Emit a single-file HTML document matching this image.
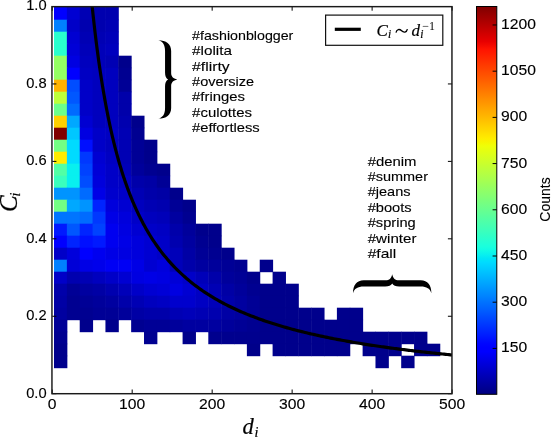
<!DOCTYPE html>
<html><head><meta charset="utf-8"><style>
html,body{margin:0;padding:0;background:#fff;width:551px;height:438px;overflow:hidden}
svg{display:block;will-change:transform;filter:blur(0.35px)}
.tl{font-family:"Liberation Sans",sans-serif;font-size:14px;fill:#000;stroke:#000;stroke-width:0.12px}
.tg{font-family:"Liberation Sans",sans-serif;font-size:13.2px;fill:#000;stroke:#000;stroke-width:0.12px}
.mi{font-family:"Liberation Serif",serif;font-style:italic;fill:#000;stroke:#000;stroke-width:0.2px}
</style></head><body>
<svg width="551" height="438" viewBox="0 0 551 438">
<defs>
<clipPath id="ax"><rect x="52.20" y="6.50" width="399.90" height="387.20"/></clipPath>
<linearGradient id="cb" x1="0" y1="0" x2="0" y2="1"><stop offset="0.00" stop-color="#800000"/><stop offset="0.01" stop-color="#8b0000"/><stop offset="0.02" stop-color="#970000"/><stop offset="0.03" stop-color="#a20000"/><stop offset="0.04" stop-color="#ae0000"/><stop offset="0.05" stop-color="#b90000"/><stop offset="0.06" stop-color="#c50000"/><stop offset="0.07" stop-color="#d10000"/><stop offset="0.08" stop-color="#dc0000"/><stop offset="0.09" stop-color="#e80000"/><stop offset="0.10" stop-color="#f30900"/><stop offset="0.11" stop-color="#ff1300"/><stop offset="0.12" stop-color="#ff1c00"/><stop offset="0.13" stop-color="#ff2600"/><stop offset="0.14" stop-color="#ff2f00"/><stop offset="0.15" stop-color="#ff3900"/><stop offset="0.16" stop-color="#ff4200"/><stop offset="0.17" stop-color="#ff4c00"/><stop offset="0.18" stop-color="#ff5500"/><stop offset="0.19" stop-color="#ff5e00"/><stop offset="0.20" stop-color="#ff6800"/><stop offset="0.21" stop-color="#ff7100"/><stop offset="0.22" stop-color="#ff7b00"/><stop offset="0.23" stop-color="#ff8400"/><stop offset="0.24" stop-color="#ff8e00"/><stop offset="0.25" stop-color="#ff9700"/><stop offset="0.26" stop-color="#ffa100"/><stop offset="0.27" stop-color="#ffaa00"/><stop offset="0.28" stop-color="#ffb300"/><stop offset="0.29" stop-color="#ffbd00"/><stop offset="0.30" stop-color="#ffc600"/><stop offset="0.31" stop-color="#ffd000"/><stop offset="0.32" stop-color="#ffd900"/><stop offset="0.33" stop-color="#ffe300"/><stop offset="0.34" stop-color="#ffec00"/><stop offset="0.35" stop-color="#f7f600"/><stop offset="0.36" stop-color="#efff08"/><stop offset="0.37" stop-color="#e6ff10"/><stop offset="0.38" stop-color="#deff19"/><stop offset="0.39" stop-color="#d6ff21"/><stop offset="0.40" stop-color="#ceff29"/><stop offset="0.41" stop-color="#c5ff31"/><stop offset="0.42" stop-color="#bdff3a"/><stop offset="0.43" stop-color="#b5ff42"/><stop offset="0.44" stop-color="#adff4a"/><stop offset="0.45" stop-color="#a5ff52"/><stop offset="0.46" stop-color="#9cff5a"/><stop offset="0.47" stop-color="#94ff63"/><stop offset="0.48" stop-color="#8cff6b"/><stop offset="0.49" stop-color="#84ff73"/><stop offset="0.50" stop-color="#7bff7b"/><stop offset="0.51" stop-color="#73ff84"/><stop offset="0.52" stop-color="#6bff8c"/><stop offset="0.53" stop-color="#63ff94"/><stop offset="0.54" stop-color="#5aff9c"/><stop offset="0.55" stop-color="#52ffa5"/><stop offset="0.56" stop-color="#4affad"/><stop offset="0.57" stop-color="#42ffb5"/><stop offset="0.58" stop-color="#3affbd"/><stop offset="0.59" stop-color="#31ffc5"/><stop offset="0.60" stop-color="#29ffce"/><stop offset="0.61" stop-color="#21ffd6"/><stop offset="0.62" stop-color="#19ffde"/><stop offset="0.63" stop-color="#10fae6"/><stop offset="0.64" stop-color="#08f0ef"/><stop offset="0.65" stop-color="#00e5f7"/><stop offset="0.66" stop-color="#00dbff"/><stop offset="0.67" stop-color="#00d1ff"/><stop offset="0.68" stop-color="#00c7ff"/><stop offset="0.69" stop-color="#00bdff"/><stop offset="0.70" stop-color="#00b3ff"/><stop offset="0.71" stop-color="#00a8ff"/><stop offset="0.72" stop-color="#009eff"/><stop offset="0.73" stop-color="#0094ff"/><stop offset="0.74" stop-color="#008aff"/><stop offset="0.75" stop-color="#0080ff"/><stop offset="0.76" stop-color="#0075ff"/><stop offset="0.77" stop-color="#006bff"/><stop offset="0.78" stop-color="#0061ff"/><stop offset="0.79" stop-color="#0057ff"/><stop offset="0.80" stop-color="#004cff"/><stop offset="0.81" stop-color="#0042ff"/><stop offset="0.82" stop-color="#0038ff"/><stop offset="0.83" stop-color="#002eff"/><stop offset="0.84" stop-color="#0024ff"/><stop offset="0.85" stop-color="#001aff"/><stop offset="0.86" stop-color="#000fff"/><stop offset="0.87" stop-color="#0005ff"/><stop offset="0.88" stop-color="#0000ff"/><stop offset="0.89" stop-color="#0000ff"/><stop offset="0.90" stop-color="#0000f3"/><stop offset="0.91" stop-color="#0000e8"/><stop offset="0.92" stop-color="#0000dc"/><stop offset="0.93" stop-color="#0000d1"/><stop offset="0.94" stop-color="#0000c5"/><stop offset="0.95" stop-color="#0000b9"/><stop offset="0.96" stop-color="#0000ae"/><stop offset="0.97" stop-color="#0000a2"/><stop offset="0.98" stop-color="#000097"/><stop offset="0.99" stop-color="#00008b"/><stop offset="1.00" stop-color="#000080"/></linearGradient>
</defs>
<rect width="551" height="438" fill="#fff"/>
<g><rect x="54.00" y="6.50" width="13.36" height="13.70" fill="#0000ff"/><rect x="66.86" y="6.50" width="13.36" height="13.70" fill="#0000d2"/><rect x="79.72" y="6.50" width="13.36" height="13.70" fill="#0000b4"/><rect x="92.58" y="6.50" width="13.36" height="13.70" fill="#0000af"/><rect x="105.44" y="6.50" width="13.36" height="13.70" fill="#0000af"/><rect x="54.00" y="19.70" width="13.36" height="12.50" fill="#0080ff"/><rect x="66.86" y="19.70" width="13.36" height="12.50" fill="#0000c8"/><rect x="79.72" y="19.70" width="13.36" height="12.50" fill="#0000af"/><rect x="92.58" y="19.70" width="13.36" height="12.50" fill="#0000af"/><rect x="105.44" y="19.70" width="13.36" height="12.50" fill="#0000b4"/><rect x="54.00" y="31.70" width="13.36" height="12.50" fill="#29ffce"/><rect x="66.86" y="31.70" width="13.36" height="12.50" fill="#0000d2"/><rect x="79.72" y="31.70" width="13.36" height="12.50" fill="#0000b4"/><rect x="92.58" y="31.70" width="13.36" height="12.50" fill="#0000b4"/><rect x="105.44" y="31.70" width="13.36" height="12.50" fill="#0000b9"/><rect x="54.00" y="43.70" width="13.36" height="12.50" fill="#29ffce"/><rect x="66.86" y="43.70" width="13.36" height="12.50" fill="#0000d7"/><rect x="79.72" y="43.70" width="13.36" height="12.50" fill="#0000b9"/><rect x="92.58" y="43.70" width="13.36" height="12.50" fill="#0000b9"/><rect x="105.44" y="43.70" width="13.36" height="12.50" fill="#0000be"/><rect x="54.00" y="55.70" width="13.36" height="12.50" fill="#94ff63"/><rect x="66.86" y="55.70" width="13.36" height="12.50" fill="#0000e1"/><rect x="79.72" y="55.70" width="13.36" height="12.50" fill="#0000be"/><rect x="92.58" y="55.70" width="13.36" height="12.50" fill="#0000b9"/><rect x="105.44" y="55.70" width="13.36" height="12.50" fill="#0000b4"/><rect x="118.30" y="55.70" width="13.36" height="12.50" fill="#00008c"/><rect x="54.00" y="67.70" width="13.36" height="12.50" fill="#94ff63"/><rect x="66.86" y="67.70" width="13.36" height="12.50" fill="#0000ff"/><rect x="79.72" y="67.70" width="13.36" height="12.50" fill="#0000c3"/><rect x="92.58" y="67.70" width="13.36" height="12.50" fill="#0000be"/><rect x="105.44" y="67.70" width="13.36" height="12.50" fill="#0000be"/><rect x="118.30" y="67.70" width="13.36" height="12.50" fill="#000091"/><rect x="54.00" y="79.70" width="13.36" height="12.50" fill="#ffb300"/><rect x="66.86" y="79.70" width="13.36" height="12.50" fill="#004dff"/><rect x="79.72" y="79.70" width="13.36" height="12.50" fill="#0000c8"/><rect x="92.58" y="79.70" width="13.36" height="12.50" fill="#0000be"/><rect x="105.44" y="79.70" width="13.36" height="12.50" fill="#0000be"/><rect x="118.30" y="79.70" width="13.36" height="12.50" fill="#000096"/><rect x="54.00" y="91.70" width="13.36" height="12.50" fill="#bdff3a"/><rect x="66.86" y="91.70" width="13.36" height="12.50" fill="#0057ff"/><rect x="79.72" y="91.70" width="13.36" height="12.50" fill="#0000c8"/><rect x="92.58" y="91.70" width="13.36" height="12.50" fill="#0000be"/><rect x="105.44" y="91.70" width="13.36" height="12.50" fill="#0000be"/><rect x="118.30" y="91.70" width="13.36" height="12.50" fill="#0000aa"/><rect x="54.00" y="103.70" width="13.36" height="12.50" fill="#6bff8c"/><rect x="66.86" y="103.70" width="13.36" height="12.50" fill="#006bff"/><rect x="79.72" y="103.70" width="13.36" height="12.50" fill="#0000c8"/><rect x="92.58" y="103.70" width="13.36" height="12.50" fill="#0000be"/><rect x="105.44" y="103.70" width="13.36" height="12.50" fill="#0000be"/><rect x="118.30" y="103.70" width="13.36" height="12.50" fill="#0000aa"/><rect x="54.00" y="115.70" width="13.36" height="12.50" fill="#ffd000"/><rect x="66.86" y="115.70" width="13.36" height="12.50" fill="#00a8ff"/><rect x="79.72" y="115.70" width="13.36" height="12.50" fill="#0000d2"/><rect x="92.58" y="115.70" width="13.36" height="12.50" fill="#0000be"/><rect x="105.44" y="115.70" width="13.36" height="12.50" fill="#0000be"/><rect x="118.30" y="115.70" width="13.36" height="12.50" fill="#0000af"/><rect x="131.15" y="115.70" width="13.36" height="12.50" fill="#00008c"/><rect x="54.00" y="127.70" width="13.36" height="12.50" fill="#800000"/><rect x="66.86" y="127.70" width="13.36" height="12.50" fill="#00c7ff"/><rect x="79.72" y="127.70" width="13.36" height="12.50" fill="#0000e1"/><rect x="92.58" y="127.70" width="13.36" height="12.50" fill="#0000c8"/><rect x="105.44" y="127.70" width="13.36" height="12.50" fill="#0000c3"/><rect x="118.30" y="127.70" width="13.36" height="12.50" fill="#0000b4"/><rect x="131.15" y="127.70" width="13.36" height="12.50" fill="#000091"/><rect x="54.00" y="139.70" width="13.36" height="12.50" fill="#73ff84"/><rect x="66.86" y="139.70" width="13.36" height="12.50" fill="#00dbff"/><rect x="79.72" y="139.70" width="13.36" height="12.50" fill="#000fff"/><rect x="92.58" y="139.70" width="13.36" height="12.50" fill="#0000c8"/><rect x="105.44" y="139.70" width="13.36" height="12.50" fill="#0000be"/><rect x="118.30" y="139.70" width="13.36" height="12.50" fill="#0000b4"/><rect x="131.15" y="139.70" width="13.36" height="12.50" fill="#000096"/><rect x="144.01" y="139.70" width="13.36" height="12.50" fill="#00008c"/><rect x="54.00" y="151.70" width="13.36" height="12.50" fill="#ffec00"/><rect x="66.86" y="151.70" width="13.36" height="12.50" fill="#00dbff"/><rect x="79.72" y="151.70" width="13.36" height="12.50" fill="#0038ff"/><rect x="92.58" y="151.70" width="13.36" height="12.50" fill="#0000d2"/><rect x="105.44" y="151.70" width="13.36" height="12.50" fill="#0000c3"/><rect x="118.30" y="151.70" width="13.36" height="12.50" fill="#0000b4"/><rect x="131.15" y="151.70" width="13.36" height="12.50" fill="#000096"/><rect x="144.01" y="151.70" width="13.36" height="12.50" fill="#00008c"/><rect x="54.00" y="163.70" width="13.36" height="12.50" fill="#52ffa5"/><rect x="66.86" y="163.70" width="13.36" height="12.50" fill="#08f0ef"/><rect x="79.72" y="163.70" width="13.36" height="12.50" fill="#0042ff"/><rect x="92.58" y="163.70" width="13.36" height="12.50" fill="#0000d7"/><rect x="105.44" y="163.70" width="13.36" height="12.50" fill="#0000c8"/><rect x="118.30" y="163.70" width="13.36" height="12.50" fill="#0000b9"/><rect x="131.15" y="163.70" width="13.36" height="12.50" fill="#00009b"/><rect x="144.01" y="163.70" width="13.36" height="12.50" fill="#000091"/><rect x="156.87" y="163.70" width="13.36" height="12.50" fill="#00008c"/><rect x="54.00" y="175.70" width="13.36" height="12.50" fill="#3affbd"/><rect x="66.86" y="175.70" width="13.36" height="12.50" fill="#08f0ef"/><rect x="79.72" y="175.70" width="13.36" height="12.50" fill="#004dff"/><rect x="92.58" y="175.70" width="13.36" height="12.50" fill="#0000dc"/><rect x="105.44" y="175.70" width="13.36" height="12.50" fill="#0000c8"/><rect x="118.30" y="175.70" width="13.36" height="12.50" fill="#0000c3"/><rect x="131.15" y="175.70" width="13.36" height="12.50" fill="#0000aa"/><rect x="144.01" y="175.70" width="13.36" height="12.50" fill="#0000a5"/><rect x="156.87" y="175.70" width="13.36" height="12.50" fill="#000096"/><rect x="54.00" y="187.70" width="13.36" height="12.50" fill="#0094ff"/><rect x="66.86" y="187.70" width="13.36" height="12.50" fill="#0094ff"/><rect x="79.72" y="187.70" width="13.36" height="12.50" fill="#006bff"/><rect x="92.58" y="187.70" width="13.36" height="12.50" fill="#0000e6"/><rect x="105.44" y="187.70" width="13.36" height="12.50" fill="#0000cd"/><rect x="118.30" y="187.70" width="13.36" height="12.50" fill="#0000c8"/><rect x="131.15" y="187.70" width="13.36" height="12.50" fill="#0000b4"/><rect x="144.01" y="187.70" width="13.36" height="12.50" fill="#0000aa"/><rect x="156.87" y="187.70" width="13.36" height="12.50" fill="#0000a5"/><rect x="169.73" y="187.70" width="13.36" height="12.50" fill="#00008c"/><rect x="54.00" y="199.70" width="13.36" height="12.50" fill="#73ff84"/><rect x="66.86" y="199.70" width="13.36" height="12.50" fill="#00a8ff"/><rect x="79.72" y="199.70" width="13.36" height="12.50" fill="#0094ff"/><rect x="92.58" y="199.70" width="13.36" height="12.50" fill="#0024ff"/><rect x="105.44" y="199.70" width="13.36" height="12.50" fill="#0000dc"/><rect x="118.30" y="199.70" width="13.36" height="12.50" fill="#0000d2"/><rect x="131.15" y="199.70" width="13.36" height="12.50" fill="#0000be"/><rect x="144.01" y="199.70" width="13.36" height="12.50" fill="#0000b4"/><rect x="156.87" y="199.70" width="13.36" height="12.50" fill="#0000af"/><rect x="169.73" y="199.70" width="13.36" height="12.50" fill="#000096"/><rect x="182.59" y="199.70" width="13.36" height="12.50" fill="#00008c"/><rect x="54.00" y="211.70" width="13.36" height="12.50" fill="#0075ff"/><rect x="66.86" y="211.70" width="13.36" height="12.50" fill="#0075ff"/><rect x="79.72" y="211.70" width="13.36" height="12.50" fill="#006bff"/><rect x="92.58" y="211.70" width="13.36" height="12.50" fill="#0038ff"/><rect x="105.44" y="211.70" width="13.36" height="12.50" fill="#0000e6"/><rect x="118.30" y="211.70" width="13.36" height="12.50" fill="#0000dc"/><rect x="131.15" y="211.70" width="13.36" height="12.50" fill="#0000c8"/><rect x="144.01" y="211.70" width="13.36" height="12.50" fill="#0000be"/><rect x="156.87" y="211.70" width="13.36" height="12.50" fill="#0000b9"/><rect x="169.73" y="211.70" width="13.36" height="12.50" fill="#0000a0"/><rect x="182.59" y="211.70" width="13.36" height="12.50" fill="#000091"/><rect x="54.00" y="223.70" width="13.36" height="12.50" fill="#0019ff"/><rect x="66.86" y="223.70" width="13.36" height="12.50" fill="#0057ff"/><rect x="79.72" y="223.70" width="13.36" height="12.50" fill="#0024ff"/><rect x="92.58" y="223.70" width="13.36" height="12.50" fill="#0042ff"/><rect x="105.44" y="223.70" width="13.36" height="12.50" fill="#0000f0"/><rect x="118.30" y="223.70" width="13.36" height="12.50" fill="#0000e1"/><rect x="131.15" y="223.70" width="13.36" height="12.50" fill="#0000d2"/><rect x="144.01" y="223.70" width="13.36" height="12.50" fill="#0000c8"/><rect x="156.87" y="223.70" width="13.36" height="12.50" fill="#0000c3"/><rect x="169.73" y="223.70" width="13.36" height="12.50" fill="#0000aa"/><rect x="182.59" y="223.70" width="13.36" height="12.50" fill="#00009b"/><rect x="195.45" y="223.70" width="13.36" height="12.50" fill="#00008c"/><rect x="208.31" y="223.70" width="13.36" height="12.50" fill="#00008c"/><rect x="54.00" y="235.70" width="13.36" height="12.50" fill="#0000ff"/><rect x="66.86" y="235.70" width="13.36" height="12.50" fill="#0024ff"/><rect x="79.72" y="235.70" width="13.36" height="12.50" fill="#000fff"/><rect x="92.58" y="235.70" width="13.36" height="12.50" fill="#0019ff"/><rect x="105.44" y="235.70" width="13.36" height="12.50" fill="#0000f0"/><rect x="118.30" y="235.70" width="13.36" height="12.50" fill="#0000e6"/><rect x="131.15" y="235.70" width="13.36" height="12.50" fill="#0000dc"/><rect x="144.01" y="235.70" width="13.36" height="12.50" fill="#0000d2"/><rect x="156.87" y="235.70" width="13.36" height="12.50" fill="#0000c8"/><rect x="169.73" y="235.70" width="13.36" height="12.50" fill="#0000af"/><rect x="182.59" y="235.70" width="13.36" height="12.50" fill="#0000a0"/><rect x="195.45" y="235.70" width="13.36" height="12.50" fill="#000091"/><rect x="208.31" y="235.70" width="13.36" height="12.50" fill="#00008c"/><rect x="54.00" y="247.70" width="13.36" height="12.50" fill="#0000c8"/><rect x="66.86" y="247.70" width="13.36" height="12.50" fill="#0000dc"/><rect x="79.72" y="247.70" width="13.36" height="12.50" fill="#0000ff"/><rect x="92.58" y="247.70" width="13.36" height="12.50" fill="#0000f0"/><rect x="105.44" y="247.70" width="13.36" height="12.50" fill="#0000e6"/><rect x="118.30" y="247.70" width="13.36" height="12.50" fill="#0000e1"/><rect x="131.15" y="247.70" width="13.36" height="12.50" fill="#0000dc"/><rect x="144.01" y="247.70" width="13.36" height="12.50" fill="#0000d2"/><rect x="156.87" y="247.70" width="13.36" height="12.50" fill="#0000c8"/><rect x="169.73" y="247.70" width="13.36" height="12.50" fill="#0000b9"/><rect x="182.59" y="247.70" width="13.36" height="12.50" fill="#0000a5"/><rect x="195.45" y="247.70" width="13.36" height="12.50" fill="#000096"/><rect x="208.31" y="247.70" width="13.36" height="12.50" fill="#000091"/><rect x="221.17" y="247.70" width="13.36" height="12.50" fill="#00008c"/><rect x="54.00" y="259.70" width="13.36" height="12.50" fill="#0080ff"/><rect x="66.86" y="259.70" width="13.36" height="12.50" fill="#0000d7"/><rect x="79.72" y="259.70" width="13.36" height="12.50" fill="#0000e6"/><rect x="92.58" y="259.70" width="13.36" height="12.50" fill="#0000eb"/><rect x="105.44" y="259.70" width="13.36" height="12.50" fill="#0000f5"/><rect x="118.30" y="259.70" width="13.36" height="12.50" fill="#0000f5"/><rect x="131.15" y="259.70" width="13.36" height="12.50" fill="#0000e6"/><rect x="144.01" y="259.70" width="13.36" height="12.50" fill="#0000d2"/><rect x="156.87" y="259.70" width="13.36" height="12.50" fill="#0000dc"/><rect x="169.73" y="259.70" width="13.36" height="12.50" fill="#0000b9"/><rect x="182.59" y="259.70" width="13.36" height="12.50" fill="#0000aa"/><rect x="195.45" y="259.70" width="13.36" height="12.50" fill="#0000a0"/><rect x="208.31" y="259.70" width="13.36" height="12.50" fill="#00009b"/><rect x="221.17" y="259.70" width="13.36" height="12.50" fill="#000096"/><rect x="234.03" y="259.70" width="13.36" height="12.50" fill="#000091"/><rect x="259.74" y="259.70" width="13.36" height="12.50" fill="#00008c"/><rect x="54.00" y="271.70" width="13.36" height="12.50" fill="#0000c8"/><rect x="66.86" y="271.70" width="13.36" height="12.50" fill="#0000af"/><rect x="79.72" y="271.70" width="13.36" height="12.50" fill="#0000b4"/><rect x="92.58" y="271.70" width="13.36" height="12.50" fill="#0000be"/><rect x="105.44" y="271.70" width="13.36" height="12.50" fill="#0000c8"/><rect x="118.30" y="271.70" width="13.36" height="12.50" fill="#0000d2"/><rect x="131.15" y="271.70" width="13.36" height="12.50" fill="#0000e1"/><rect x="144.01" y="271.70" width="13.36" height="12.50" fill="#0000e6"/><rect x="156.87" y="271.70" width="13.36" height="12.50" fill="#0000e1"/><rect x="169.73" y="271.70" width="13.36" height="12.50" fill="#0000d7"/><rect x="182.59" y="271.70" width="13.36" height="12.50" fill="#0000c8"/><rect x="195.45" y="271.70" width="13.36" height="12.50" fill="#0000b9"/><rect x="208.31" y="271.70" width="13.36" height="12.50" fill="#0000aa"/><rect x="221.17" y="271.70" width="13.36" height="12.50" fill="#00009b"/><rect x="234.03" y="271.70" width="13.36" height="12.50" fill="#000096"/><rect x="246.88" y="271.70" width="13.36" height="12.50" fill="#00008c"/><rect x="272.60" y="271.70" width="13.36" height="12.50" fill="#00008c"/><rect x="54.00" y="283.70" width="13.36" height="12.50" fill="#0000aa"/><rect x="66.86" y="283.70" width="13.36" height="12.50" fill="#000096"/><rect x="79.72" y="283.70" width="13.36" height="12.50" fill="#0000a0"/><rect x="92.58" y="283.70" width="13.36" height="12.50" fill="#0000a5"/><rect x="105.44" y="283.70" width="13.36" height="12.50" fill="#0000af"/><rect x="118.30" y="283.70" width="13.36" height="12.50" fill="#0000b9"/><rect x="131.15" y="283.70" width="13.36" height="12.50" fill="#0000c8"/><rect x="144.01" y="283.70" width="13.36" height="12.50" fill="#0000d2"/><rect x="156.87" y="283.70" width="13.36" height="12.50" fill="#0000d7"/><rect x="169.73" y="283.70" width="13.36" height="12.50" fill="#0000e1"/><rect x="182.59" y="283.70" width="13.36" height="12.50" fill="#0000d2"/><rect x="195.45" y="283.70" width="13.36" height="12.50" fill="#0000c3"/><rect x="208.31" y="283.70" width="13.36" height="12.50" fill="#0000b4"/><rect x="221.17" y="283.70" width="13.36" height="12.50" fill="#0000a5"/><rect x="234.03" y="283.70" width="13.36" height="12.50" fill="#00009b"/><rect x="246.88" y="283.70" width="13.36" height="12.50" fill="#000091"/><rect x="259.74" y="283.70" width="13.36" height="12.50" fill="#00008c"/><rect x="272.60" y="283.70" width="13.36" height="12.50" fill="#00008c"/><rect x="285.46" y="283.70" width="13.36" height="12.50" fill="#00008c"/><rect x="54.00" y="295.70" width="13.36" height="12.50" fill="#0000a5"/><rect x="66.86" y="295.70" width="13.36" height="12.50" fill="#000091"/><rect x="79.72" y="295.70" width="13.36" height="12.50" fill="#000096"/><rect x="92.58" y="295.70" width="13.36" height="12.50" fill="#00009b"/><rect x="105.44" y="295.70" width="13.36" height="12.50" fill="#0000a0"/><rect x="118.30" y="295.70" width="13.36" height="12.50" fill="#0000aa"/><rect x="131.15" y="295.70" width="13.36" height="12.50" fill="#0000b4"/><rect x="144.01" y="295.70" width="13.36" height="12.50" fill="#0000be"/><rect x="156.87" y="295.70" width="13.36" height="12.50" fill="#0000c3"/><rect x="169.73" y="295.70" width="13.36" height="12.50" fill="#0000cd"/><rect x="182.59" y="295.70" width="13.36" height="12.50" fill="#0000cd"/><rect x="195.45" y="295.70" width="13.36" height="12.50" fill="#0000c3"/><rect x="208.31" y="295.70" width="13.36" height="12.50" fill="#0000b9"/><rect x="221.17" y="295.70" width="13.36" height="12.50" fill="#0000aa"/><rect x="234.03" y="295.70" width="13.36" height="12.50" fill="#0000a0"/><rect x="246.88" y="295.70" width="13.36" height="12.50" fill="#000096"/><rect x="259.74" y="295.70" width="13.36" height="12.50" fill="#00008c"/><rect x="272.60" y="295.70" width="13.36" height="12.50" fill="#00008c"/><rect x="285.46" y="295.70" width="13.36" height="12.50" fill="#00008c"/><rect x="54.00" y="307.70" width="13.36" height="12.50" fill="#0000a0"/><rect x="66.86" y="307.70" width="13.36" height="12.50" fill="#000091"/><rect x="79.72" y="307.70" width="13.36" height="12.50" fill="#000091"/><rect x="92.58" y="307.70" width="13.36" height="12.50" fill="#000096"/><rect x="105.44" y="307.70" width="13.36" height="12.50" fill="#000096"/><rect x="118.30" y="307.70" width="13.36" height="12.50" fill="#00009b"/><rect x="131.15" y="307.70" width="13.36" height="12.50" fill="#0000a5"/><rect x="144.01" y="307.70" width="13.36" height="12.50" fill="#0000aa"/><rect x="156.87" y="307.70" width="13.36" height="12.50" fill="#0000aa"/><rect x="169.73" y="307.70" width="13.36" height="12.50" fill="#0000b4"/><rect x="182.59" y="307.70" width="13.36" height="12.50" fill="#0000b9"/><rect x="195.45" y="307.70" width="13.36" height="12.50" fill="#0000b4"/><rect x="208.31" y="307.70" width="13.36" height="12.50" fill="#0000af"/><rect x="221.17" y="307.70" width="13.36" height="12.50" fill="#0000a5"/><rect x="234.03" y="307.70" width="13.36" height="12.50" fill="#0000a0"/><rect x="246.88" y="307.70" width="13.36" height="12.50" fill="#000096"/><rect x="259.74" y="307.70" width="13.36" height="12.50" fill="#00008c"/><rect x="272.60" y="307.70" width="13.36" height="12.50" fill="#00008c"/><rect x="285.46" y="307.70" width="13.36" height="12.50" fill="#00008c"/><rect x="298.32" y="307.70" width="13.36" height="12.50" fill="#00008c"/><rect x="311.18" y="307.70" width="13.36" height="12.50" fill="#00008c"/><rect x="336.90" y="307.70" width="13.36" height="12.50" fill="#00008c"/><rect x="349.76" y="307.70" width="13.36" height="12.50" fill="#00008c"/><rect x="54.00" y="319.70" width="13.36" height="12.50" fill="#000096"/><rect x="79.72" y="319.70" width="13.36" height="12.50" fill="#00008c"/><rect x="105.44" y="319.70" width="13.36" height="12.50" fill="#00008c"/><rect x="131.15" y="319.70" width="13.36" height="12.50" fill="#000091"/><rect x="144.01" y="319.70" width="13.36" height="12.50" fill="#000096"/><rect x="156.87" y="319.70" width="13.36" height="12.50" fill="#000096"/><rect x="169.73" y="319.70" width="13.36" height="12.50" fill="#00009b"/><rect x="182.59" y="319.70" width="13.36" height="12.50" fill="#0000a0"/><rect x="195.45" y="319.70" width="13.36" height="12.50" fill="#0000a0"/><rect x="208.31" y="319.70" width="13.36" height="12.50" fill="#0000a0"/><rect x="221.17" y="319.70" width="13.36" height="12.50" fill="#00009b"/><rect x="234.03" y="319.70" width="13.36" height="12.50" fill="#000096"/><rect x="246.88" y="319.70" width="13.36" height="12.50" fill="#000091"/><rect x="259.74" y="319.70" width="13.36" height="12.50" fill="#00008c"/><rect x="272.60" y="319.70" width="13.36" height="12.50" fill="#00008c"/><rect x="285.46" y="319.70" width="13.36" height="12.50" fill="#00008c"/><rect x="298.32" y="319.70" width="13.36" height="12.50" fill="#00008c"/><rect x="311.18" y="319.70" width="13.36" height="12.50" fill="#00008c"/><rect x="324.04" y="319.70" width="13.36" height="12.50" fill="#00008c"/><rect x="336.90" y="319.70" width="13.36" height="12.50" fill="#00008c"/><rect x="349.76" y="319.70" width="13.36" height="12.50" fill="#00008c"/><rect x="54.00" y="331.70" width="13.36" height="12.50" fill="#000091"/><rect x="144.01" y="331.70" width="13.36" height="12.50" fill="#000091"/><rect x="182.59" y="331.70" width="13.36" height="12.50" fill="#00008c"/><rect x="208.31" y="331.70" width="13.36" height="12.50" fill="#00008e"/><rect x="221.17" y="331.70" width="13.36" height="12.50" fill="#00008e"/><rect x="234.03" y="331.70" width="13.36" height="12.50" fill="#00008e"/><rect x="246.88" y="331.70" width="13.36" height="12.50" fill="#00008e"/><rect x="259.74" y="331.70" width="13.36" height="12.50" fill="#00008c"/><rect x="272.60" y="331.70" width="13.36" height="12.50" fill="#00008c"/><rect x="285.46" y="331.70" width="13.36" height="12.50" fill="#00008c"/><rect x="298.32" y="331.70" width="13.36" height="12.50" fill="#00008c"/><rect x="311.18" y="331.70" width="13.36" height="12.50" fill="#00008c"/><rect x="324.04" y="331.70" width="13.36" height="12.50" fill="#00008c"/><rect x="336.90" y="331.70" width="13.36" height="12.50" fill="#00008c"/><rect x="349.76" y="331.70" width="13.36" height="12.50" fill="#00008c"/><rect x="362.62" y="331.70" width="13.36" height="12.50" fill="#00008c"/><rect x="375.48" y="331.70" width="13.36" height="12.50" fill="#00008c"/><rect x="388.33" y="331.70" width="13.36" height="12.50" fill="#00008c"/><rect x="401.19" y="331.70" width="13.36" height="12.50" fill="#00008c"/><rect x="414.05" y="331.70" width="13.36" height="12.50" fill="#00008c"/><rect x="54.00" y="343.70" width="13.36" height="12.50" fill="#00008c"/><rect x="246.88" y="343.70" width="13.36" height="12.50" fill="#00008a"/><rect x="272.60" y="343.70" width="13.36" height="12.50" fill="#00008c"/><rect x="285.46" y="343.70" width="13.36" height="12.50" fill="#00008c"/><rect x="298.32" y="343.70" width="13.36" height="12.50" fill="#00008c"/><rect x="311.18" y="343.70" width="13.36" height="12.50" fill="#00008c"/><rect x="324.04" y="343.70" width="13.36" height="12.50" fill="#00008c"/><rect x="336.90" y="343.70" width="13.36" height="12.50" fill="#00008c"/><rect x="362.62" y="343.70" width="13.36" height="12.50" fill="#00008c"/><rect x="375.48" y="343.70" width="13.36" height="12.50" fill="#00008c"/><rect x="388.33" y="343.70" width="13.36" height="12.50" fill="#00008c"/><rect x="414.05" y="343.70" width="13.36" height="12.50" fill="#00008c"/><rect x="426.91" y="343.70" width="13.36" height="12.50" fill="#00008c"/><rect x="54.00" y="355.70" width="13.36" height="12.50" fill="#00008c"/><rect x="375.48" y="355.70" width="13.36" height="12.50" fill="#00008c"/><rect x="401.19" y="355.70" width="13.36" height="12.50" fill="#00008c"/></g>
<path d="M89.79,-18.21 L90.19,-13.88 L90.59,-9.63 L90.99,-5.48 L91.39,-1.40 L91.79,2.59 L92.19,6.50 L92.59,10.33 L92.99,14.09 L93.39,17.78 L93.79,21.39 L94.19,24.94 L94.59,28.42 L94.99,31.83 L95.39,35.18 L95.79,38.47 L96.19,41.70 L96.59,44.87 L96.99,47.99 L97.39,51.05 L97.79,54.05 L98.19,57.00 L98.59,59.91 L98.99,62.76 L99.39,65.56 L99.79,68.32 L100.19,71.03 L100.59,73.70 L100.99,76.32 L101.39,78.90 L101.79,81.44 L102.19,83.94 L102.59,86.40 L102.99,88.82 L103.39,91.20 L103.79,93.54 L104.19,95.85 L104.59,98.13 L104.99,100.37 L105.39,102.57 L105.79,104.74 L106.19,106.89 L106.59,108.99 L106.99,111.07 L107.39,113.12 L107.79,115.14 L108.19,117.13 L108.59,119.09 L108.99,121.02 L109.39,122.93 L109.79,124.81 L110.19,126.67 L110.59,128.49 L110.99,130.30 L111.39,132.08 L111.79,133.83 L112.19,135.57 L112.58,137.28 L112.98,138.96 L113.38,140.63 L113.78,142.27 L114.18,143.89 L114.58,145.49 L114.98,147.08 L115.38,148.64 L115.78,150.18 L116.18,151.70 L116.58,153.20 L116.98,154.69 L117.38,156.15 L117.78,157.60 L118.18,159.03 L118.58,160.45 L118.98,161.84 L119.38,163.22 L119.78,164.59 L120.18,165.94 L120.58,167.27 L120.98,168.58 L121.38,169.88 L121.78,171.17 L122.18,172.44 L122.58,173.70 L122.98,174.94 L123.38,176.17 L123.78,177.39 L124.18,178.59 L124.58,179.78 L124.98,180.95 L125.38,182.12 L125.78,183.27 L126.18,184.40 L126.58,185.53 L126.98,186.64 L127.38,187.74 L127.78,188.83 L128.18,189.91 L128.58,190.98 L128.98,192.03 L129.38,193.08 L129.78,194.11 L130.18,195.14 L130.58,196.15 L130.98,197.15 L131.38,198.14 L131.78,199.13 L132.18,200.10 L132.58,201.06 L132.98,202.02 L133.38,202.96 L133.78,203.90 L134.18,204.82 L134.58,205.74 L134.98,206.65 L135.38,207.55 L135.78,208.44 L136.18,209.32 L136.58,210.19 L136.98,211.06 L137.38,211.92 L137.78,212.77 L138.18,213.61 L138.58,214.44 L138.98,215.27 L139.38,216.09 L139.78,216.90 L140.18,217.70 L140.58,218.50 L140.98,219.29 L141.38,220.07 L141.78,220.84 L142.18,221.61 L142.58,222.37 L142.98,223.13 L143.38,223.88 L143.78,224.62 L144.18,225.35 L144.58,226.08 L144.98,226.80 L145.38,227.52 L145.78,228.23 L146.18,228.93 L146.58,229.63 L146.98,230.32 L147.38,231.01 L147.78,231.69 L148.18,232.37 L149.78,235.01 L151.38,237.57 L152.97,240.05 L154.57,242.45 L156.17,244.78 L157.77,247.03 L159.37,249.22 L160.97,251.35 L162.57,253.41 L164.17,255.41 L165.77,257.36 L167.37,259.26 L168.97,261.10 L170.57,262.89 L172.17,264.63 L173.77,266.33 L175.37,267.99 L176.97,269.60 L178.57,271.17 L180.17,272.70 L181.77,274.19 L183.37,275.65 L184.97,277.07 L186.57,278.46 L188.17,279.82 L189.77,281.14 L191.37,282.44 L192.96,283.70 L194.56,284.94 L196.16,286.14 L197.76,287.33 L199.36,288.48 L200.96,289.61 L202.56,290.72 L204.16,291.81 L205.76,292.87 L207.36,293.91 L208.96,294.92 L210.56,295.92 L212.16,296.90 L213.76,297.86 L215.36,298.80 L216.96,299.72 L218.56,300.62 L220.16,301.51 L221.76,302.38 L223.36,303.23 L224.96,304.07 L226.56,304.89 L228.16,305.70 L229.76,306.49 L231.36,307.27 L232.95,308.04 L234.55,308.79 L236.15,309.53 L237.75,310.25 L239.35,310.96 L240.95,311.67 L242.55,312.36 L244.15,313.03 L245.75,313.70 L247.35,314.36 L248.95,315.00 L250.55,315.64 L252.15,316.26 L253.75,316.87 L255.35,317.48 L256.95,318.07 L258.55,318.66 L260.15,319.24 L261.75,319.81 L263.35,320.37 L264.95,320.92 L266.55,321.46 L268.15,322.00 L269.75,322.52 L271.35,323.04 L272.94,323.56 L274.54,324.06 L276.14,324.56 L277.74,325.05 L279.34,325.53 L280.94,326.01 L282.54,326.48 L284.14,326.94 L285.74,327.40 L287.34,327.85 L288.94,328.29 L290.54,328.73 L292.14,329.17 L293.74,329.59 L295.34,330.02 L296.94,330.43 L298.54,330.84 L300.14,331.25 L301.74,331.65 L303.34,332.04 L304.94,332.43 L306.54,332.82 L308.14,333.20 L309.74,333.58 L311.34,333.95 L312.93,334.31 L314.53,334.68 L316.13,335.03 L317.73,335.39 L319.33,335.74 L320.93,336.08 L322.53,336.42 L324.13,336.76 L325.73,337.09 L327.33,337.42 L328.93,337.75 L330.53,338.07 L332.13,338.39 L333.73,338.70 L335.33,339.01 L336.93,339.32 L338.53,339.62 L340.13,339.92 L341.73,340.22 L343.33,340.51 L344.93,340.80 L346.53,341.09 L348.13,341.38 L349.73,341.66 L351.33,341.94 L352.92,342.21 L354.52,342.48 L356.12,342.75 L357.72,343.02 L359.32,343.28 L360.92,343.54 L362.52,343.80 L364.12,344.06 L365.72,344.31 L367.32,344.56 L368.92,344.81 L370.52,345.06 L372.12,345.30 L373.72,345.54 L375.32,345.78 L376.92,346.02 L378.52,346.25 L380.12,346.48 L381.72,346.71 L383.32,346.94 L384.92,347.16 L386.52,347.38 L388.12,347.60 L389.72,347.82 L391.32,348.04 L392.91,348.25 L394.51,348.47 L396.11,348.68 L397.71,348.89 L399.31,349.09 L400.91,349.30 L402.51,349.50 L404.11,349.70 L405.71,349.90 L407.31,350.10 L408.91,350.29 L410.51,350.49 L412.11,350.68 L413.71,350.87 L415.31,351.06 L416.91,351.24 L418.51,351.43 L420.11,351.61 L421.71,351.80 L423.31,351.98 L424.91,352.15 L426.51,352.33 L428.11,352.51 L429.71,352.68 L431.31,352.86 L432.90,353.03 L434.50,353.20 L436.10,353.37 L437.70,353.53 L439.30,353.70 L440.90,353.86 L442.50,354.03 L444.10,354.19 L445.70,354.35 L447.30,354.51 L448.90,354.67 L450.50,354.82 L452.10,354.98" fill="none" stroke="#000" stroke-width="3.2" clip-path="url(#ax)"/>
<path d="M52.20,393.70V389.50M52.20,6.50V10.70M132.18,393.70V389.50M132.18,6.50V10.70M212.16,393.70V389.50M212.16,6.50V10.70M292.14,393.70V389.50M292.14,6.50V10.70M372.12,393.70V389.50M372.12,6.50V10.70M452.10,393.70V389.50M452.10,6.50V10.70M52.20,393.70H56.40M452.10,393.70H447.90M52.20,316.26H56.40M452.10,316.26H447.90M52.20,238.82H56.40M452.10,238.82H447.90M52.20,161.38H56.40M452.10,161.38H447.90M52.20,83.94H56.40M452.10,83.94H447.90M52.20,6.50H56.40M452.10,6.50H447.90" stroke="#000" stroke-width="1"/>
<rect x="51.95" y="6.65" width="400.0" height="387.05" fill="none" stroke="#1a1a1a" stroke-width="1.45"/>
<text transform="translate(52.20,408.7) scale(1.12,1)" class="tl" text-anchor="middle">0</text><text transform="translate(132.18,408.7) scale(1.12,1)" class="tl" text-anchor="middle">100</text><text transform="translate(212.16,408.7) scale(1.12,1)" class="tl" text-anchor="middle">200</text><text transform="translate(292.14,408.7) scale(1.12,1)" class="tl" text-anchor="middle">300</text><text transform="translate(372.12,408.7) scale(1.12,1)" class="tl" text-anchor="middle">400</text><text transform="translate(452.10,408.7) scale(1.12,1)" class="tl" text-anchor="middle">500</text>
<text transform="translate(46.6,397.60) scale(1.05,1)" class="tl" text-anchor="end">0.0</text><text transform="translate(46.6,320.16) scale(1.05,1)" class="tl" text-anchor="end">0.2</text><text transform="translate(46.6,242.72) scale(1.05,1)" class="tl" text-anchor="end">0.4</text><text transform="translate(46.6,165.28) scale(1.05,1)" class="tl" text-anchor="end">0.6</text><text transform="translate(46.6,87.84) scale(1.05,1)" class="tl" text-anchor="end">0.8</text><text transform="translate(46.6,10.40) scale(1.05,1)" class="tl" text-anchor="end">1.0</text>
<!-- legend -->
<rect x="325.6" y="15.1" width="117.2" height="30.2" fill="#fff" stroke="#111" stroke-width="1.2"/>
<path d="M334.8,29.3H360.8" stroke="#000" stroke-width="3.2"/>
<text class="mi" x="376.4" y="35.5" font-size="17px">C</text>
<text class="mi" x="388.0" y="37.8" font-size="11.5px">i</text>
<path d="M396.0,32.6 C396.6,29.0 399.6,28.8 401.6,30.8 C403.6,32.8 406.7,32.6 407.4,29.2" fill="none" stroke="#000" stroke-width="1.3"/>
<text class="mi" x="411.6" y="35.5" font-size="17px">d</text>
<text class="mi" x="420.3" y="37.8" font-size="11.5px">i</text>
<text x="422.2" y="29.6" font-family="Liberation Serif" font-size="12px">&#8722;1</text>
<!-- annotations -->
<path d="M -9.8,-39.2 C -2,-39.2 3.05,-35.5 3.05,-28.5 L 3.05,-6.5 C 3.05,-3 5,-0.9 9.2,0 C 5,0.9 3.05,3 3.05,6.5 L 3.05,28.5 C 3.05,35.5 -2,39.2 -9.8,39.2 C -5.2,38 -3.05,34.5 -3.05,28.5 L -3.05,7 C -3.05,3.5 -2,1 0,0 C -2,-1 -3.05,-3.5 -3.05,-7 L -3.05,-28.5 C -3.05,-34.5 -5.2,-38 -9.8,-39.2 Z" transform="translate(168.1,79.4)" fill="#000"/>
<path d="M -9.8,-39.2 C -2,-39.2 3.05,-35.5 3.05,-28.5 L 3.05,-6.5 C 3.05,-3 5,-0.9 9.2,0 C 5,0.9 3.05,3 3.05,6.5 L 3.05,28.5 C 3.05,35.5 -2,39.2 -9.8,39.2 C -5.2,38 -3.05,34.5 -3.05,28.5 L -3.05,7 C -3.05,3.5 -2,1 0,0 C -2,-1 -3.05,-3.5 -3.05,-7 L -3.05,-28.5 C -3.05,-34.5 -5.2,-38 -9.8,-39.2 Z" transform="translate(392.2,283.4) rotate(-90)" fill="#000"/>
<text transform="translate(192.09,39.60) scale(1.079,1)" class="tg">#fashionblogger</text><text transform="translate(192.08,55.05) scale(1.154,1)" class="tg">#lolita</text><text transform="translate(192.08,70.50) scale(1.191,1)" class="tg">#flirty</text><text transform="translate(192.09,85.95) scale(1.100,1)" class="tg">#oversize</text><text transform="translate(192.09,101.40) scale(1.127,1)" class="tg">#fringes</text><text transform="translate(192.09,116.85) scale(1.134,1)" class="tg">#culottes</text><text transform="translate(192.09,132.30) scale(1.116,1)" class="tg">#effortless</text>
<text transform="translate(367.69,165.50) scale(1.128,1)" class="tg">#denim</text><text transform="translate(367.69,180.93) scale(1.097,1)" class="tg">#summer</text><text transform="translate(367.69,196.36) scale(1.102,1)" class="tg">#jeans</text><text transform="translate(367.69,211.79) scale(1.110,1)" class="tg">#boots</text><text transform="translate(367.69,227.22) scale(1.109,1)" class="tg">#spring</text><text transform="translate(367.69,242.65) scale(1.147,1)" class="tg">#winter</text><text transform="translate(367.68,258.08) scale(1.181,1)" class="tg">#fall</text>
<!-- colorbar -->
<rect x="476.50" y="6.50" width="20.30" height="387.80" fill="url(#cb)" stroke="#000" stroke-width="1"/>
<path d="M496.80,348.40H492.60M496.80,302.20H492.60M496.80,256.00H492.60M496.80,209.79H492.60M496.80,163.59H492.60M496.80,117.39H492.60M496.80,71.18H492.60M496.80,24.98H492.60" stroke="#000" stroke-width="1"/>
<text transform="translate(501.0,352.40) scale(1.12,1)" class="tl">150</text><text transform="translate(501.0,306.20) scale(1.12,1)" class="tl">300</text><text transform="translate(501.0,260.00) scale(1.12,1)" class="tl">450</text><text transform="translate(501.0,213.79) scale(1.12,1)" class="tl">600</text><text transform="translate(501.0,167.59) scale(1.12,1)" class="tl">750</text><text transform="translate(501.0,121.39) scale(1.12,1)" class="tl">900</text><text transform="translate(501.0,75.18) scale(1.12,1)" class="tl">1050</text><text transform="translate(501.0,28.98) scale(1.12,1)" class="tl">1200</text>
<text class="tl" transform="translate(550,199.5) rotate(-90)" text-anchor="middle">Counts</text>
<!-- axis labels -->
<text class="mi" x="242.5" y="433.8" font-size="22.5px">d</text>
<text class="mi" x="254.5" y="437" font-size="14px">i</text>
<g transform="translate(16.6,212.0) rotate(-90)"><text class="mi" x="0" y="0" font-size="25px">C</text><text class="mi" x="15.5" y="3.6" font-size="14px">i</text></g>
</svg>
</body></html>
